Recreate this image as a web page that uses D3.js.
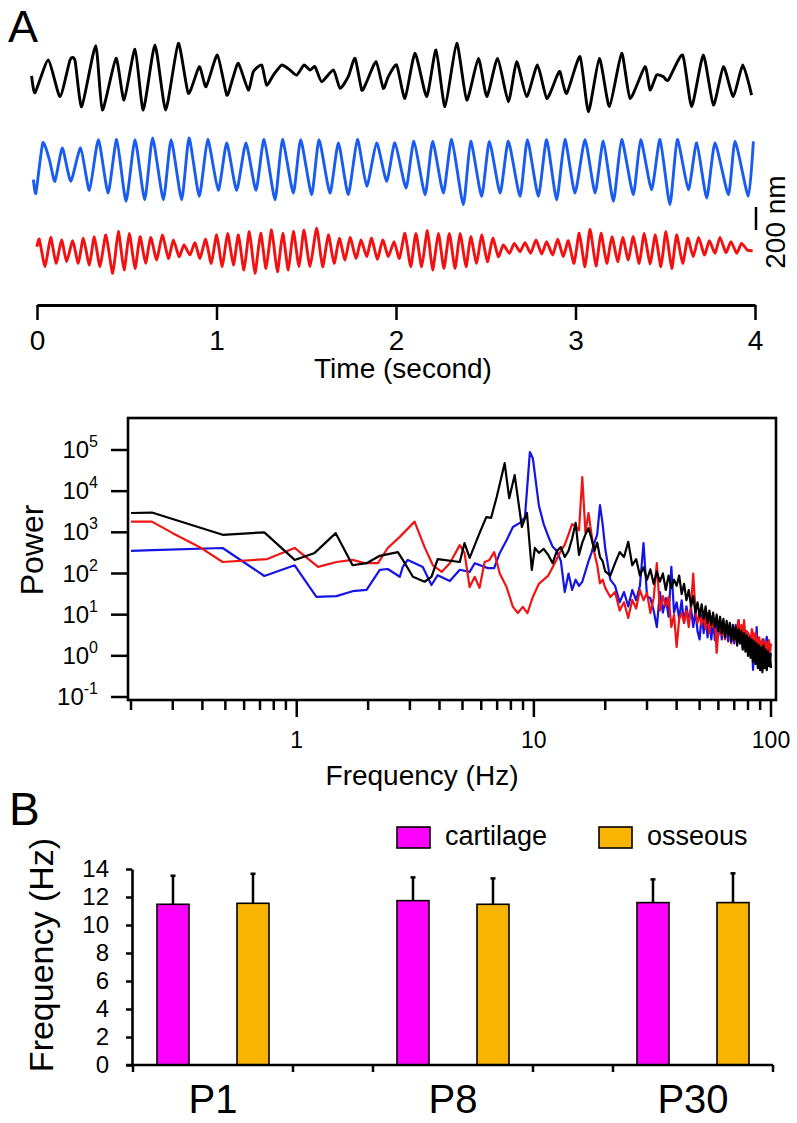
<!DOCTYPE html>
<html><head><meta charset="utf-8">
<script src="https://cdn.jsdelivr.net/npm/d3@7"></script>
<style>body{margin:0;background:#fff}text{font-family:Arial,"Liberation Sans",sans-serif;fill:#000}</style>
</head><body><svg id="c" width="797" height="1123"></svg>
<script>
// ---------- DATA ----------
// Panel A raw traces: [time (s), displacement (nm)]
const blackTrace=[[-0.030,9],[-0.011,-136],[0.063,148],[0.128,-171],[0.184,148],[0.212,142],[0.249,-258],[0.327,273],[0.364,-287],[0.440,162],[0.485,-200],[0.546,241],[0.592,-287],[0.657,278],[0.717,-287],[0.787,293],[0.843,-142],[0.904,90],[0.942,-84],[1.005,191],[1.057,-157],[1.088,-26],[1.122,119],[1.177,-113],[1.205,46],[1.252,104],[1.279,-70],[1.317,17],[1.363,104],[1.409,61],[1.447,17],[1.487,104],[1.521,61],[1.549,90],[1.586,-41],[1.651,61],[1.688,-99],[1.734,3],[1.772,162],[1.809,-113],[1.837,-41],[1.889,133],[1.929,-99],[1.957,3],[2.004,104],[2.050,-186],[2.106,206],[2.171,-171],[2.223,235],[2.273,-258],[2.338,293],[2.394,-200],[2.459,162],[2.506,-171],[2.566,162],[2.626,-215],[2.672,133],[2.728,-171],[2.788,104],[2.840,-186],[2.895,3],[2.914,46],[2.951,-142],[3.025,177],[3.072,-302],[3.133,162],[3.189,-258],[3.257,206],[3.304,-186],[3.387,90],[3.415,-113],[3.452,17],[3.489,3],[3.517,-26],[3.597,191],[3.647,-258],[3.712,191],[3.768,-244],[3.824,90],[3.879,-171],[3.932,104],[3.981,-157]];
const blueTrace=[[-0.020,-102],[-0.006,-218],[0.032,218],[0.069,73],[0.100,-116],[0.141,174],[0.188,-116],[0.243,174],[0.292,-194],[0.342,247],[0.396,-218],[0.444,247],[0.496,-290],[0.546,247],[0.600,-276],[0.644,261],[0.704,-276],[0.747,247],[0.806,-276],[0.847,261],[0.904,-247],[0.951,247],[1.010,-194],[1.057,218],[1.112,-194],[1.164,218],[1.220,-194],[1.265,247],[1.326,-276],[1.367,247],[1.428,-218],[1.469,247],[1.530,-232],[1.571,247],[1.632,-218],[1.679,218],[1.734,-232],[1.785,247],[1.837,-160],[1.892,218],[1.948,-116],[1.994,218],[2.056,-174],[2.100,232],[2.162,-232],[2.204,232],[2.264,-218],[2.310,247],[2.375,-319],[2.416,232],[2.477,-247],[2.520,232],[2.580,-218],[2.626,232],[2.691,-247],[2.732,247],[2.793,-247],[2.839,247],[2.895,-276],[2.941,247],[2.997,-218],[3.053,247],[3.109,-218],[3.155,232],[3.211,-290],[3.257,247],[3.322,-232],[3.363,247],[3.424,-189],[3.471,247],[3.526,-319],[3.567,247],[3.629,-189],[3.675,218],[3.731,-261],[3.777,218],[3.852,-232],[3.889,232],[3.963,-247],[3.991,232]];
const redTrace=[[0.000,29],[0.013,93],[0.045,-145],[0.076,110],[0.106,-116],[0.137,87],[0.165,-102],[0.199,81],[0.230,-116],[0.258,102],[0.292,-131],[0.319,116],[0.351,-145],[0.384,131],[0.422,-203],[0.453,160],[0.485,-174],[0.514,145],[0.546,-160],[0.574,116],[0.605,-116],[0.633,110],[0.667,-87],[0.698,131],[0.732,-73],[0.760,87],[0.791,-58],[0.819,44],[0.852,-44],[0.880,64],[0.908,-73],[0.940,93],[0.971,-116],[1.001,131],[1.032,-145],[1.062,145],[1.094,-131],[1.122,131],[1.153,-174],[1.183,160],[1.214,-203],[1.246,145],[1.276,-160],[1.307,174],[1.339,-189],[1.369,145],[1.400,-174],[1.428,160],[1.460,-145],[1.487,174],[1.521,-145],[1.558,189],[1.591,-145],[1.623,131],[1.655,-116],[1.684,102],[1.716,-87],[1.744,110],[1.777,-73],[1.805,87],[1.837,-58],[1.864,102],[1.896,-81],[1.926,87],[1.957,-58],[1.989,73],[2.019,-73],[2.050,145],[2.082,-145],[2.111,145],[2.143,-145],[2.175,168],[2.204,-174],[2.236,145],[2.267,-160],[2.297,145],[2.329,-160],[2.357,145],[2.390,-145],[2.416,116],[2.449,-116],[2.477,131],[2.509,-102],[2.539,102],[2.570,-58],[2.598,44],[2.632,-29],[2.659,58],[2.691,-15],[2.719,64],[2.750,-29],[2.780,87],[2.812,-35],[2.839,73],[2.873,-44],[2.901,93],[2.932,-58],[2.960,81],[2.992,-116],[3.021,145],[3.053,-145],[3.081,180],[3.114,-139],[3.142,145],[3.174,-116],[3.203,116],[3.235,-102],[3.263,110],[3.294,-87],[3.322,116],[3.355,-116],[3.383,145],[3.415,-122],[3.445,131],[3.476,-145],[3.504,160],[3.536,-160],[3.563,131],[3.597,-116],[3.625,102],[3.656,-58],[3.686,110],[3.718,-44],[3.746,81],[3.777,-29],[3.805,110],[3.838,-23],[3.866,73],[3.898,-29],[3.925,58],[3.957,0],[3.987,-6]];
const timeTicks=[0,1,2,3,4];
const scaleBarNm=200;

// Power spectra, low band: [frequency (Hz), log10(power)]
const blackLow=[[0.2,3.47],[0.245,3.48],[0.487,2.94],[0.73,3.0],[0.98,2.33],[1.19,2.5],[1.46,2.98],[1.72,2.2],[1.97,2.25],[2.24,2.43],[2.67,2.52],[2.8,2.33],[3.09,1.92],[3.46,1.8],[3.7,1.92],[3.93,2.35],[4.87,2.28],[5.1,2.74],[5.36,2.38],[5.9,2.98],[6.3,3.37],[6.6,3.35],[6.97,3.86],[7.53,4.68],[7.87,3.83],[8.3,4.39],[8.9,3.13],[9.35,3.47],[9.8,2.09],[10.1,2.62]];
const blueLow=[[0.2,2.55],[0.247,2.57],[0.487,2.62],[0.73,1.94],[0.98,2.2],[1.21,1.43],[1.47,1.45],[1.72,1.57],[1.97,1.6],[2.24,2.09],[2.42,2.11],[2.72,1.92],[2.8,2.16],[2.94,2.33],[3.4,2.16],[3.7,1.72],[3.93,1.96],[4.42,1.82],[4.87,2.09],[5.36,2.04],[5.63,2.25],[6.4,2.13],[6.8,2.13],[7.18,2.5],[7.67,2.81],[8.16,3.13],[8.73,3.23],[9.17,3.37],[9.62,4.95],[9.9,4.8]];
const redLow=[[0.2,3.26],[0.245,3.26],[0.3,2.98],[0.39,2.64],[0.487,2.28],[0.75,2.35],[0.98,2.62],[1.23,2.16],[1.47,2.28],[1.72,2.33],[1.94,2.25],[2.2,2.25],[2.42,2.62],[2.72,2.89],[3.14,3.26],[3.46,2.64],[3.75,2.2],[4.09,2.04],[4.42,2.25],[4.87,2.69],[5.1,2.5],[5.36,1.67],[5.63,1.92],[5.9,1.65],[6.2,2.28],[6.5,2.33],[6.8,2.52],[7.18,2.0],[7.67,1.67],[8.16,1.19],[8.56,1.04],[8.98,1.19],[9.4,1.04],[9.9,1.43]];
// High band: shared frequencies (Hz) and log10(power) per series
const highFreq=[10.5,11,11.5,12,12.5,13,13.5,14,14.5,15,15.5,16,16.5,17,17.5,18,18.5,19,19.5,20,21,22,23,24,25,26,27,28,29,30,31,32,33,34,35,36,37,38,39,40,41,42,43,44,45,46,47,48,49,50,51,52,53,54,55,56,57,58,59,60,61,62,63,64,65,66,67,68,69,70,71,72,73,74,75,76,77,78,79,80,81,82,83,84,85,86,87,88,89,90,91,92,93,94,95,96,97,98,99,100];
const blackHigh=[2.50,2.60,2.45,2.25,2.55,2.64,2.40,2.55,2.85,3.23,2.45,2.75,2.95,3.10,2.85,2.55,2.75,2.40,2.30,2.05,1.95,2.25,2.52,2.40,2.77,2.20,2.35,1.95,2.15,1.85,2.10,1.75,2.05,1.80,2.00,1.60,1.95,1.65,1.85,1.70,1.95,1.50,1.75,1.35,1.60,1.20,1.45,1.05,1.30,0.95,1.25,0.90,1.20,0.80,1.10,0.75,1.05,0.70,1.00,0.60,0.95,0.55,0.90,0.45,0.85,0.50,0.80,0.35,0.75,0.40,0.70,0.25,0.65,0.30,0.60,0.15,0.55,0.10,0.50,0.00,0.45,-0.05,0.40,-0.15,0.35,-0.20,0.30,-0.30,0.25,-0.35,0.20,-0.40,0.25,-0.30,0.15,-0.35,0.10,-0.25,0.05,-0.30];
const blueHigh=[3.65,3.20,2.90,2.65,2.55,2.30,1.55,2.00,1.60,1.85,1.70,1.80,2.05,2.30,2.50,2.75,2.95,3.66,3.20,2.60,1.85,1.70,1.30,1.55,1.20,1.60,1.35,1.70,2.74,1.45,1.40,1.10,0.70,1.55,1.05,1.40,0.95,2.16,1.05,1.30,0.90,1.35,0.80,1.20,0.85,1.15,0.70,1.10,0.60,0.40,1.00,0.55,1.05,0.45,0.95,0.40,0.85,0.38,0.90,0.50,0.85,0.40,0.80,0.55,0.75,0.35,0.70,0.50,0.65,0.30,0.75,0.45,0.87,0.30,0.60,0.20,0.55,0.35,0.50,0.15,0.45,0.10,0.40,-0.34,0.35,0.05,0.70,0.00,0.30,-0.10,0.35,0.21,0.40,-0.05,0.30,0.46,0.10,0.35,-0.10,0.07];
const redHigh=[1.75,1.85,1.95,2.15,2.35,2.55,2.70,2.95,3.20,3.15,3.05,4.34,3.00,3.47,2.95,2.50,2.20,1.76,1.85,1.65,1.43,1.55,1.10,1.30,0.92,1.36,1.15,1.60,1.35,1.53,1.04,1.40,2.25,1.10,1.45,1.20,1.43,0.70,1.00,0.21,0.90,1.04,0.80,1.10,0.70,1.25,2.00,1.10,0.80,1.00,0.75,1.05,0.65,1.04,0.55,0.95,0.70,0.85,0.07,0.60,0.87,0.50,0.80,0.40,0.75,0.55,0.60,0.30,0.65,0.45,0.38,0.70,0.87,0.40,0.75,0.35,0.87,0.45,0.60,0.55,0.50,0.30,0.65,0.55,0.25,0.55,0.40,0.20,0.45,0.30,0.25,0.40,0.15,0.21,0.35,0.10,0.30,0.38,0.05,0.30];
const powerExponents=[-1,0,1,2,3,4,5];
const freqMajor=[1,10,100];
const freqMinor=[0.2,0.3,0.4,0.5,0.6,0.7,0.8,0.9,2,3,4,5,6,7,8,9,20,30,40,50,60,70,80,90];

// Panel B bars
const ages=["P1","P8","P30"];
const tissues=["cartilage","osseous"];
const cartilageMean=[11.48,11.74,11.6];
const cartilageSD=[2.04,1.66,1.66];
const osseousMean=[11.55,11.48,11.6];
const osseousSD=[2.11,1.85,2.09];
const barTicks=[0,2,4,6,8,10,12,14];

// ---------- DRAW ----------
const svg=d3.select("#c");
const colors={black:"#000000",blueTr:"#1a5cf0",redTr:"#f21010",blueSp:"#1414e6",redSp:"#f01414",cartilage:"#ff00ff",osseous:"#f8b400"};
const withHigh=(low,high)=>low.concat(highFreq.map((f,i)=>[f,high[i]]));
const blackSpectrum=withHigh(blackLow,blackHigh);
const blueSpectrum=withHigh(blueLow,blueHigh);
const redSpectrum=withHigh(redLow,redHigh);

// Panel labels
svg.append("text").attr("x",8).attr("y",42).attr("font-size",45).text("A");
svg.append("text").attr("x",9).attr("y",825).attr("font-size",46).text("B");

// Traces
const tx=d3.scaleLinear().domain([0,4]).range([37,755]);
const ny=d3.scaleLinear().domain([0,200]).range([0,-23]);
const traceLine=d3.line().x(d=>tx(d[0])).y(d=>ny(d[1])).curve(d3.curveCardinal.tension(0.45));
[[blackTrace,colors.black,77],[blueTrace,colors.blueTr,168],[redTrace,colors.redTr,250]].forEach(([data,col,base])=>{
  svg.append("path").datum(data).attr("transform",`translate(0,${base})`)
    .attr("d",traceLine).attr("fill","none").attr("stroke",col).attr("stroke-width",2.9).attr("stroke-linejoin","round");
});
// scale bar
svg.append("line").attr("x1",756).attr("x2",756).attr("y1",230+ny(scaleBarNm)).attr("y2",230)
  .attr("stroke","#000").attr("stroke-width",2.5);
svg.append("text").attr("transform","translate(785,222) rotate(-90)").attr("text-anchor","middle").attr("font-size",28).text("200 nm");

// Time axis
const tAxis=svg.append("g").attr("transform","translate(0,305)")
  .call(d3.axisBottom(tx).tickValues(timeTicks).tickSize(15).tickSizeOuter(0).tickFormat(d3.format("d")));
tAxis.select(".domain").attr("stroke-width",3);
tAxis.selectAll(".tick line").attr("stroke-width",2.5);
tAxis.selectAll(".tick text").attr("y",45).attr("dy",0).attr("font-size",28).attr("font-family","Arial, Liberation Sans");
svg.append("text").attr("x",403).attr("y",378).attr("text-anchor","middle").attr("font-size",28).text("Time (second)");

// Power spectrum
const fx=d3.scaleLog().domain([0.2,100]).range([131,771]);
const py=d3.scaleLog().domain([0.1,1e5]).range([697,450]);
svg.append("clipPath").attr("id","pc").append("rect").attr("x",129).attr("y",419).attr("width",646).attr("height",279);
const specLine=d3.line().x(d=>fx(d[0])).y(d=>py(Math.pow(10,d[1])));
const pg=svg.append("g").attr("clip-path","url(#pc)");
[[blueSpectrum,colors.blueSp],[redSpectrum,colors.redSp],[blackSpectrum,colors.black]].forEach(([data,col])=>{
  pg.append("path").datum(data).attr("d",specLine).attr("fill","none").attr("stroke",col).attr("stroke-width",2.2).attr("stroke-linejoin","round");
});
svg.append("rect").attr("x",128).attr("y",418).attr("width",648).attr("height",282)
  .attr("fill","none").attr("stroke","#000").attr("stroke-width",2.6);
powerExponents.forEach(e=>{
  const y=py(Math.pow(10,e));
  svg.append("line").attr("x1",111).attr("x2",128).attr("y1",y).attr("y2",y).attr("stroke","#000").attr("stroke-width",2.5);
  const t=svg.append("text").attr("x",98).attr("y",y+8).attr("text-anchor","end").attr("font-size",24);
  t.append("tspan").text("10");
  t.append("tspan").attr("dy",-11).attr("font-size",16).text(String(e));
});
freqMinor.forEach(f=>{
  svg.append("line").attr("x1",fx(f)).attr("x2",fx(f)).attr("y1",699).attr("y2",710).attr("stroke","#000").attr("stroke-width",2.5);
});
freqMajor.forEach(f=>{
  svg.append("line").attr("x1",fx(f)).attr("x2",fx(f)).attr("y1",699).attr("y2",717).attr("stroke","#000").attr("stroke-width",2.5);
  svg.append("text").attr("x",fx(f)).attr("y",748).attr("text-anchor","middle").attr("font-size",23).text(String(f));
});
svg.append("text").attr("transform","translate(43,550) rotate(-90)").attr("text-anchor","middle").attr("font-size",32).text("Power");
svg.append("text").attr("x",422).attr("y",785).attr("text-anchor","middle").attr("font-size",28).text("Frequency (Hz)");

// Bar chart
const bx=d3.scaleBand().domain(ages).range([133,773]).paddingInner(1/3).paddingOuter(0);
const bs=d3.scaleBand().domain(tissues).range([0,bx.bandwidth()]).paddingInner(0.6).paddingOuter(0.3);
const by=d3.scaleLinear().domain([0,14]).range([1065,869]);
const barData=[];
ages.forEach((a,i)=>{
  barData.push({age:a,tissue:"cartilage",m:cartilageMean[i],sd:cartilageSD[i]});
  barData.push({age:a,tissue:"osseous",m:osseousMean[i],sd:osseousSD[i]});
});
const bg=svg.append("g");
barData.forEach(d=>{
  const cx=bx(d.age)+bs(d.tissue)+bs.bandwidth()/2;
  bg.append("line").attr("x1",cx).attr("x2",cx).attr("y1",by(d.m)).attr("y2",by(d.m+d.sd)).attr("stroke","#000").attr("stroke-width",2.5);
  bg.append("line").attr("x1",cx-2.5).attr("x2",cx+2.5).attr("y1",by(d.m+d.sd)).attr("y2",by(d.m+d.sd)).attr("stroke","#000").attr("stroke-width",2.5);
  bg.append("rect").attr("x",bx(d.age)+bs(d.tissue)).attr("y",by(d.m)).attr("width",bs.bandwidth()).attr("height",by(0)-by(d.m))
    .attr("fill",colors[d.tissue]).attr("stroke","#000").attr("stroke-width",1.6);
});
const yAx=svg.append("g").attr("transform","translate(132,0)")
  .call(d3.axisLeft(by).tickValues(barTicks).tickSize(6).tickSizeOuter(0).tickPadding(17));
yAx.select(".domain").attr("stroke-width",2.6);
yAx.selectAll(".tick line").attr("stroke-width",2.5);
yAx.selectAll(".tick text").attr("font-size",24).attr("font-family","Arial, Liberation Sans");
svg.append("line").attr("x1",126).attr("x2",773).attr("y1",1065).attr("y2",1065).attr("stroke","#000").attr("stroke-width",2.6);
ages.forEach(a=>{
  [bx(a),bx(a)+bx.bandwidth()].forEach(xx=>{
    svg.append("line").attr("x1",xx).attr("x2",xx).attr("y1",1065).attr("y2",1072).attr("stroke","#000").attr("stroke-width",2.5);
  });
  svg.append("text").attr("x",bx(a)+bx.bandwidth()/2).attr("y",1113).attr("text-anchor","middle").attr("font-size",40).text(a);
});
svg.append("text").attr("transform","translate(53,955) rotate(-90)").attr("text-anchor","middle").attr("font-size",34).text("Frequency (Hz)");
[["cartilage",397,445],["osseous",599,647]].forEach(([k,rx,tx2])=>{
  svg.append("rect").attr("x",rx).attr("y",827).attr("width",33).attr("height",21).attr("fill",colors[k]).attr("stroke","#000").attr("stroke-width",1.6);
  svg.append("text").attr("x",tx2).attr("y",845).attr("font-size",27).text(k);
});
</script></body></html>
